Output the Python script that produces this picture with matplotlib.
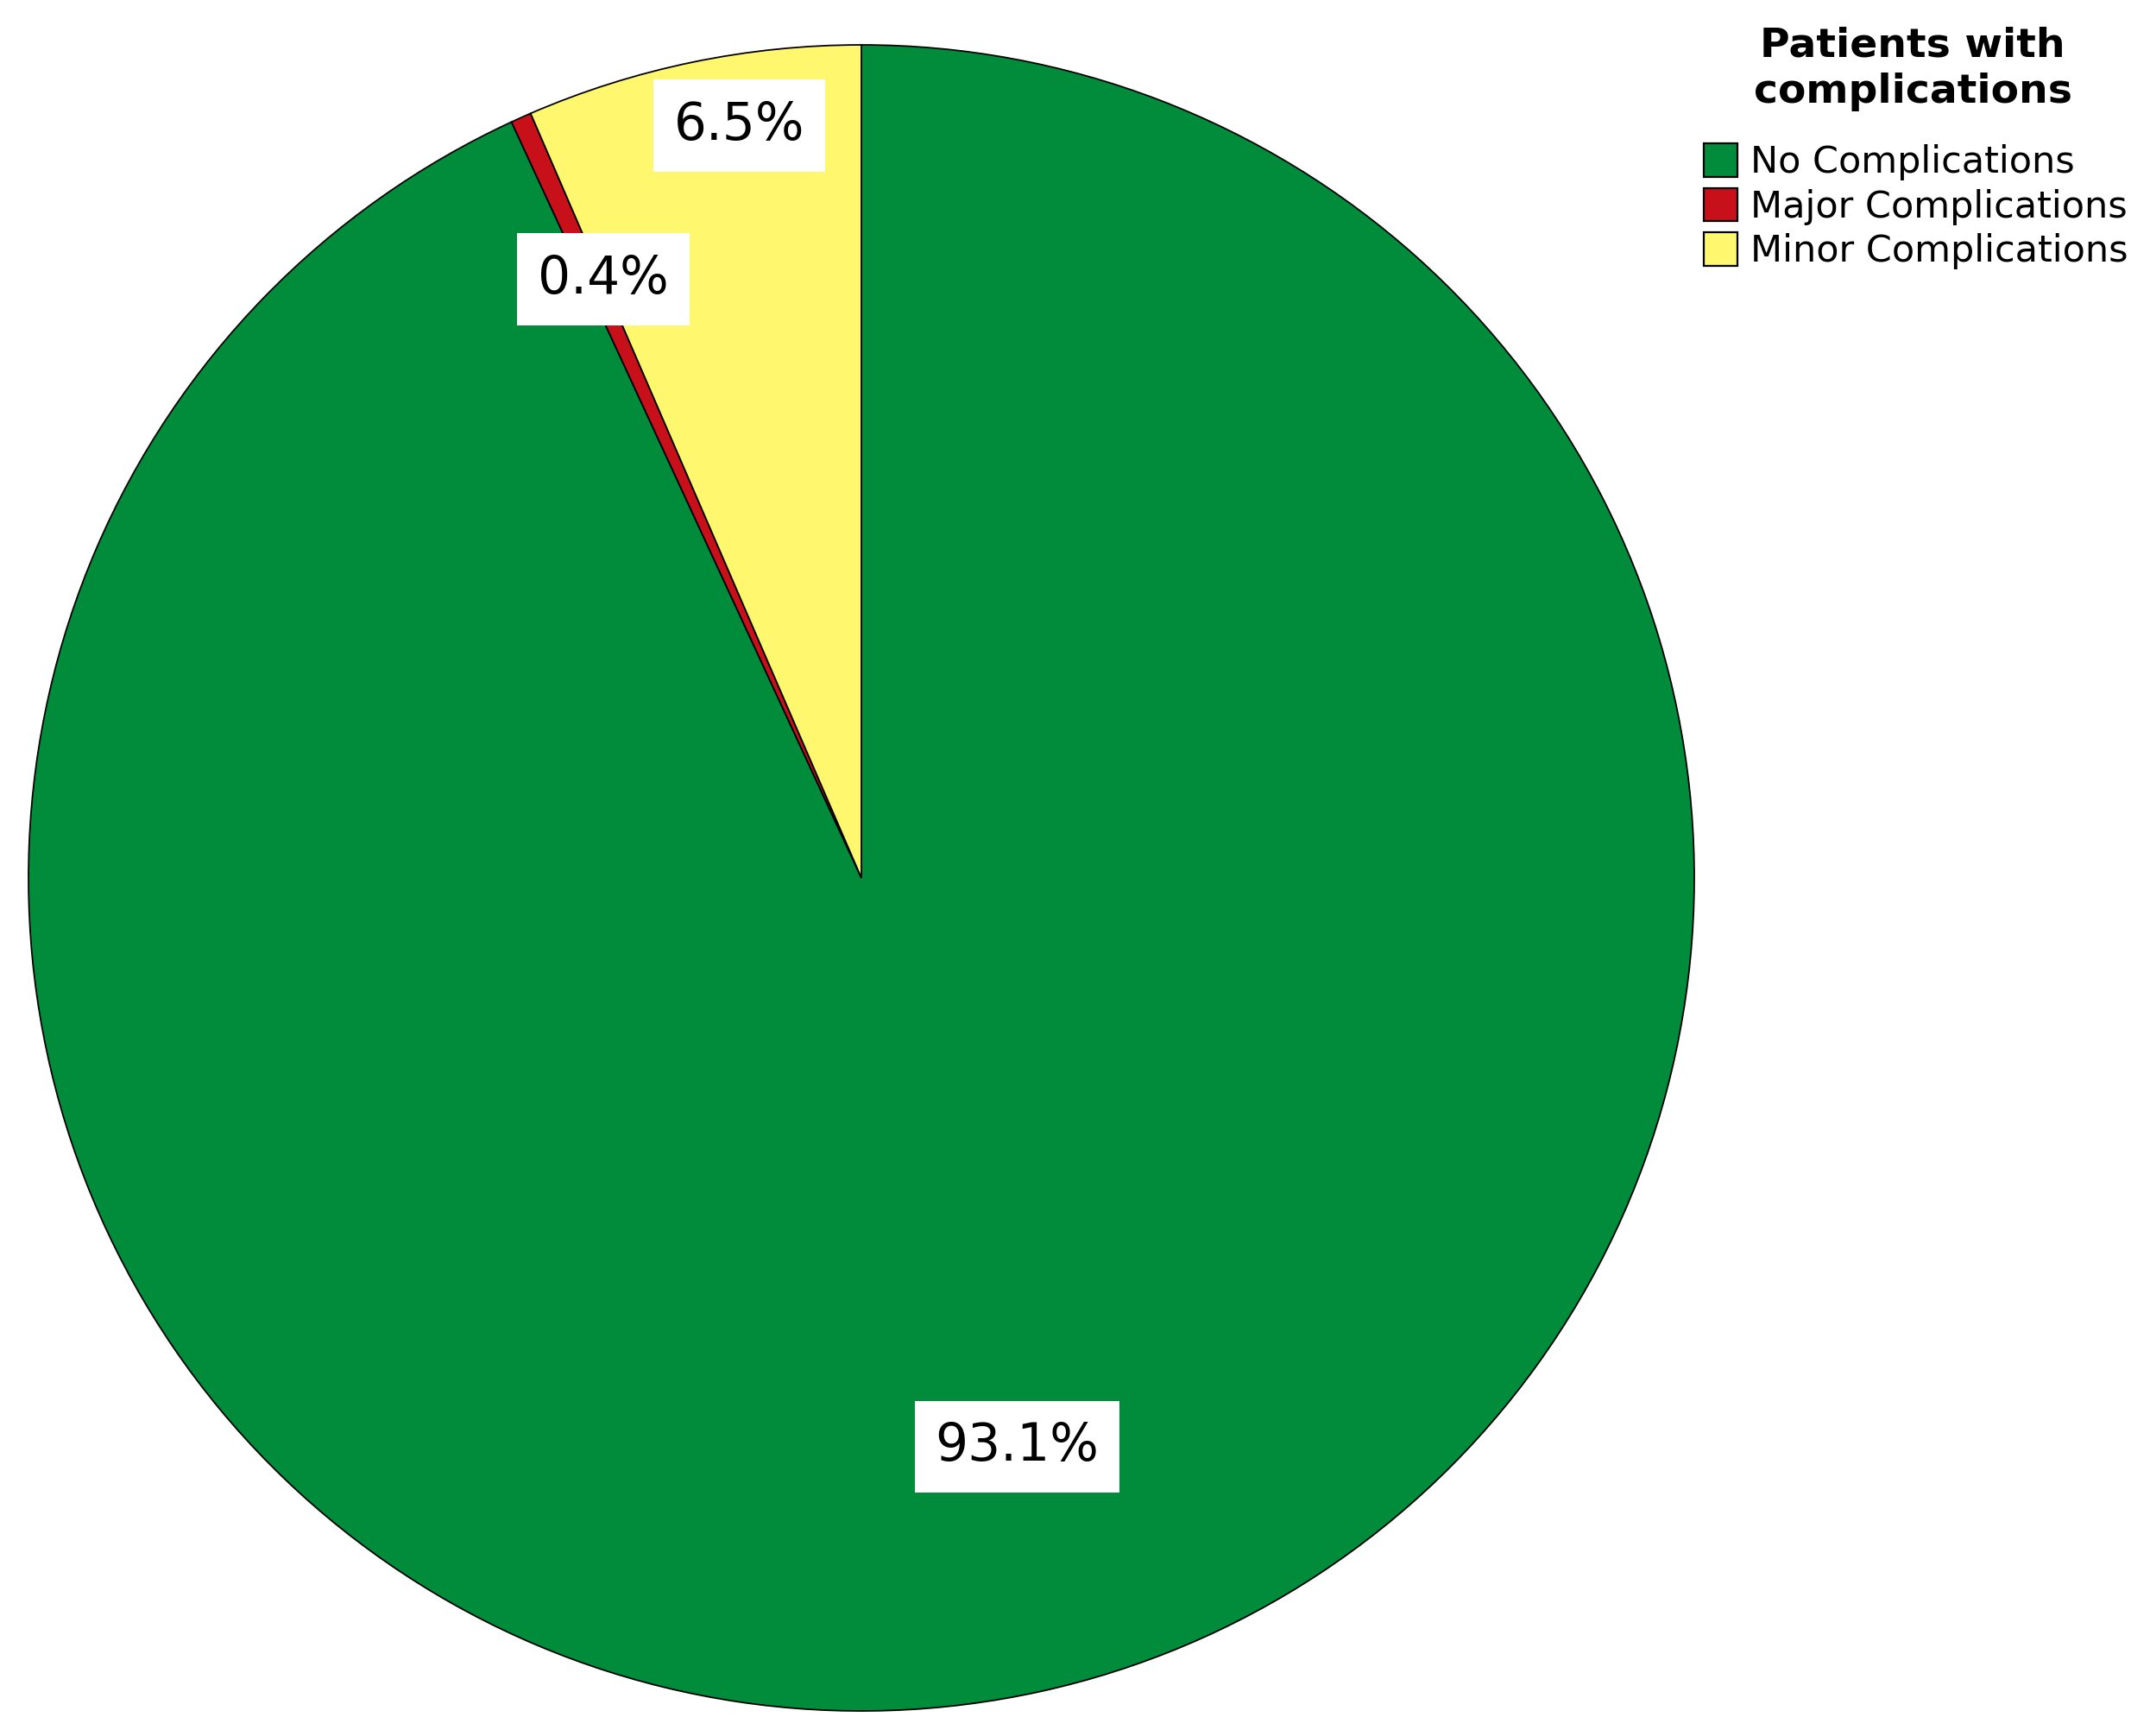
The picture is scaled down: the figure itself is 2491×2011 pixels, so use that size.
import matplotlib.pyplot as plt
import numpy as np

# data
categories = ["No Complications", "Major Complications", "Minor Complications"]
percents = [93.1, 0.4, 6.5]
pct_labels = ["93.1%", "0.4%", "6.5%"]
colors = ["#008C3B", "#C8101A", "#FFF76E"]
legend_title = "Patients with\ncomplications"
# label placement: fraction of radius, and nudge (degrees) off the wedge middle
label_dist = [0.708, 0.783, 0.915]
label_nudge = [2.9, -0.8, -2.5]

W, H = 2491, 2011
fig = plt.figure(figsize=(W / 100, H / 100), dpi=100)

cx, cy, r = 998, 1017, 965
ax = fig.add_axes([(cx - r) / W, (H - cy - r) / H, 2 * r / W, 2 * r / H])

wedges, _ = ax.pie(percents, colors=colors, startangle=90, counterclock=False,
                   wedgeprops={"edgecolor": "black", "linewidth": 1.3})
ax.set_xlim(-1, 1)
ax.set_ylim(-1, 1)
ax.set_aspect("equal")
ax.axis("off")

for w, lab, d, nud in zip(wedges, pct_labels, label_dist, label_nudge):
    ang = np.deg2rad((w.theta1 + w.theta2) / 2 + nud)
    ax.text(d * np.cos(ang), d * np.sin(ang), lab, ha="center", va="center",
            fontsize=43, color="black",
            bbox=dict(boxstyle="square,pad=0.4", fc="white", ec="none"))

# legend title drawn separately so the gap to the entries matches
fig.text(2216 / W, 1 - 30 / H, legend_title, ha="center", va="top",
         fontsize=34, fontweight="bold", linespacing=1.25, multialignment="center")

leg = fig.legend(wedges, categories,
                 loc="upper left", bbox_to_anchor=(1944 / W, 1 - 136 / H),
                 frameon=False, fontsize=31,
                 handlelength=0.9, handleheight=1.0, handletextpad=0.35,
                 labelspacing=0.2, borderpad=0.2)
for h in leg.legend_handles:
    h.set_edgecolor("black")
    h.set_linewidth(1.6)

fig.savefig("out.png", dpi=100)
